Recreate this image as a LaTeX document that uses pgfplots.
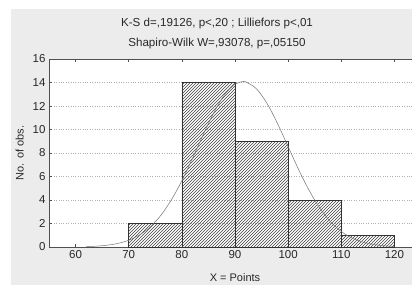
\documentclass[border=0pt]{standalone}
\usepackage{pgfplots}
\pgfplotsset{compat=1.18}
\usetikzlibrary{patterns}
\usepackage{fontspec}
\setmainfont{Liberation Sans}
\definecolor{bg}{RGB}{236,236,236}
\definecolor{ax}{RGB}{80,80,80}
\definecolor{txt}{RGB}{40,40,40}
\begin{document}
\begin{tikzpicture}[x=1pt,y=1pt]
\clip (0,0) rectangle (412,285);
\fill[bg] (11,0) rectangle (412,276);
\node[font=\fontsize{11.6}{13}\selectfont, text=txt] at (217,262) {K-S d=,19126, p<,20 ; Lilliefors p<,01};
\node[font=\fontsize{11.6}{13}\selectfont, text=txt] at (217,242) {Shapiro-Wilk W=,93078, p=,05150};
\node[font=\fontsize{11}{13}\selectfont, text=txt] at (235,7) {X = Points};
\begin{axis}[
  at={(49pt,38pt)}, anchor=south west,
  scale only axis, width=372pt, height=188pt,
  xmin=55, xmax=125, ymin=0, ymax=16,
  xtick={60,70,...,120}, ytick={0,2,...,16},
  tick align=inside,
  xtick pos=both, ytick pos=left,
  xticklabel pos=lower,
  major tick length=3pt,
  tick style={ax, line width=0.6pt},
  axis line style={ax, line width=0.8pt},
  axis background/.style={fill=white},
  ymajorgrids,
  grid style={dotted, gray!60, line width=0.6pt},
  ylabel={No. of obs.},
  ylabel style={font=\fontsize{11}{13}\selectfont, text=txt, yshift=2pt},
  ticklabel style={font=\fontsize{11.5}{13}\selectfont, text=txt},
  /pgf/number format/assume math mode=true,
  clip=false,
]
\addplot[ybar interval, pattern=north east lines, pattern color=black!75, draw=black!80, line width=0.6pt]
  coordinates {(70,2) (80,14) (90,9) (100,4) (110,1) (120,1)};
\addplot[gray!90!black, line width=0.5pt, smooth, mark=none] coordinates {
(62,0.034) (64,0.075) (66,0.156) (68,0.308) (70,0.574) (72,1.014) (74,1.691)
(76,2.670) (78,3.990) (80,5.639) (82,7.537) (84,9.543) (86,11.42) (88,12.94)
(90,13.86) (91.5,14.08) (92,14.06) (94,13.48) (96,12.24) (98,10.51) (100,8.540)
(102,6.566) (104,4.775) (106,3.285) (108,2.140) (110,1.319) (112,0.769)
(114,0.424) (116,0.221) (118,0.109) (120,0.051)};
\end{axis}
\end{tikzpicture}
\end{document}
